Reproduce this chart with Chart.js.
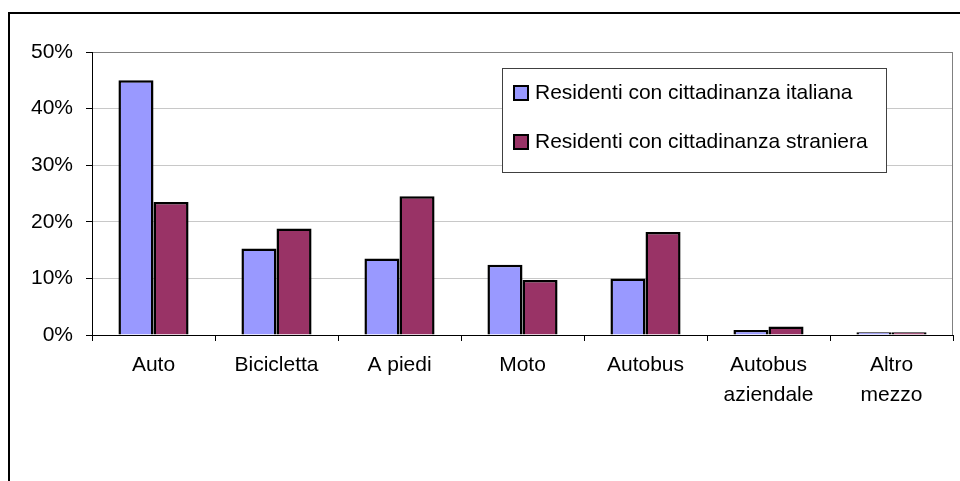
<!DOCTYPE html>
<html>
<head>
<meta charset="utf-8">
<script src="https://cdn.jsdelivr.net/npm/chart.js@4/dist/chart.umd.min.js"></script>
<style>
  html, body { margin: 0; padding: 0; background: #fff; }
  #wrap { position: relative; width: 960px; height: 481px; overflow: hidden; }
  #frame { position: absolute; left: 8px; top: 12px; width: 1000px; height: 600px;
           border-left: 2px solid #000; border-top: 2px solid #000; pointer-events: none; }
</style>
</head>
<body>
<div id="wrap">
  <canvas id="chart" width="960" height="481"></canvas>
  <div id="frame"></div>
</div>
<script>
// categories (multi-line labels as arrays)
const categories = ['Auto', 'Bicicletta', 'A piedi', 'Moto', 'Autobus', ['Autobus', 'aziendale'], ['Altro', 'mezzo']];
const italiani = [45.0, 15.3, 13.5, 12.4, 10.0, 0.9, 0.5];
const stranieri = [23.5, 18.8, 24.5, 9.7, 18.2, 1.5, 0.5];
const yTicks = [0, 10, 20, 30, 40, 50];

const FONT = "'Liberation Sans', Arial, sans-serif";
const FS = 21;

// legend box drawn inside the plot, like the Excel original
const boxLegend = {
  id: 'boxLegend',
  afterDraw(chart) {
    const ctx = chart.ctx;
    const x = 502, y = 68, w = 384, h = 104;
    ctx.save();
    ctx.fillStyle = '#fff';
    ctx.fillRect(x, y, w, h);
    ctx.strokeStyle = '#404040';
    ctx.lineWidth = 1;
    ctx.strokeRect(x + 0.5, y + 0.5, w, h);
    ctx.font = FS + 'px ' + FONT;
    ctx.textBaseline = 'middle';
    chart.data.datasets.forEach((ds, i) => {
      const cy = 93 + i * 49;
      ctx.fillStyle = ds.backgroundColor;
      ctx.fillRect(514, cy - 7, 14, 14);
      ctx.strokeStyle = '#000';
      ctx.lineWidth = 2;
      ctx.strokeRect(514, cy - 7, 14, 14);
      ctx.fillStyle = '#000';
      ctx.fillText(ds.label, 535, cy);
    });
    ctx.restore();
  }
};

// gray plot-area border on the right side
const plotBorder = {
  id: 'plotBorder',
  beforeDatasetsDraw(chart) {
    const a = chart.chartArea;
    const ctx = chart.ctx;
    ctx.save();
    ctx.strokeStyle = '#808080';
    ctx.lineWidth = 1;
    ctx.beginPath();
    ctx.moveTo(a.right - 0.5, a.top);
    ctx.lineTo(a.right - 0.5, a.bottom);
    ctx.stroke();
    ctx.restore();
  }
};

new Chart(document.getElementById('chart'), {
  type: 'bar',
  data: {
    labels: categories,
    datasets: [
      { label: 'Residenti con cittadinanza italiana', data: italiani,
        backgroundColor: '#9999FF', borderColor: '#000', borderWidth: 2.5 },
      { label: 'Residenti con cittadinanza straniera', data: stranieri,
        backgroundColor: '#993366', borderColor: '#000', borderWidth: 2.5 }
    ]
  },
  plugins: [plotBorder, boxLegend],
  options: {
    responsive: false,
    animation: false,
    layout: { padding: { left: 0, top: 52, right: 7, bottom: 0 } },
    datasets: { bar: { categoryPercentage: 0.57, barPercentage: 1.0 } },
    plugins: {
      legend: { display: false },
      tooltip: { enabled: false },
      title: { display: false }
    },
    scales: {
      x: {
        afterFit(s) { s.height = 146; },
        grid: { offset: true, drawOnChartArea: false, tickLength: 6, tickColor: '#000' },
        border: { color: '#000', width: 1 },
        ticks: { color: '#000', padding: 9, maxRotation: 0, autoSkip: false,
                 font: { family: FONT, size: FS, lineHeight: 30 / FS } }
      },
      y: {
        min: 0,
        max: 50,
        afterFit(s) { s.width = 92; },
        afterBuildTicks(s) { s.ticks = yTicks.map(v => ({ value: v })); },
        grid: {
          color: c => c.tick && c.tick.value === 50 ? '#808080' : (c.tick && c.tick.value === 0 ? '#000' : '#c8c8c8'),
          tickLength: 6,
          tickColor: '#000'
        },
        border: { color: '#000', width: 1 },
        ticks: { color: '#000', padding: 13,
                 font: { family: FONT, size: FS },
                 callback: v => v + '%' }
      }
    }
  }
});
</script>
</body>
</html>
